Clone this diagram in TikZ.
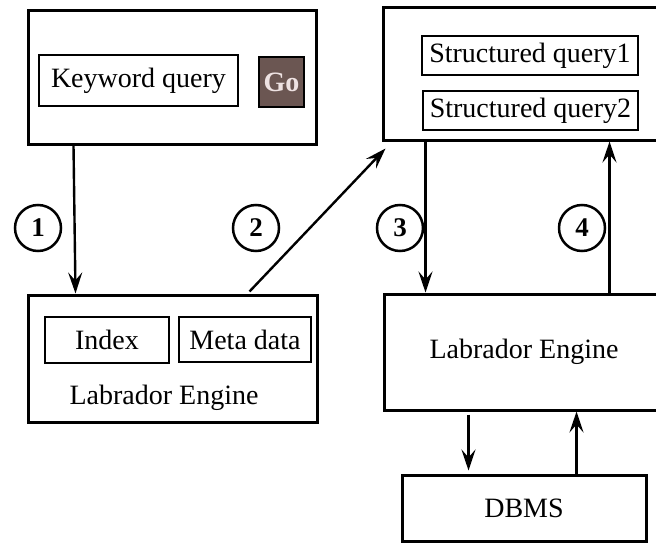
\documentclass[tikz,border=0pt]{standalone}
\usepackage{fontspec}
\setmainfont{Liberation Serif}
\usetikzlibrary{arrows.meta}
\definecolor{gobrown}{HTML}{6B5652}
\definecolor{gotext}{HTML}{EEE2E2}
\begin{document}
\begin{tikzpicture}
[x=1pt,y=-1pt,
box/.style={rectangle,draw=black,line width=3pt,inner sep=0pt,font=\fontsize{28}{32}\selectfont},
inbox/.style={box,line width=2.8pt},
stepmark/.style={circle,draw=black,line width=2.5pt,minimum size=46pt,inner sep=0pt,font=\fontsize{27}{28}\selectfont\bfseries},
arr/.style={line width=2.4pt,-{Stealth[length=21pt,width=14pt,inset=8pt]}}]
\useasboundingbox (0,0) rectangle (656,543);
\clip (0,0) rectangle (656,543);
%keyword page
	\node[box,minimum width=288pt,minimum height=133pt] (kwpage) at (172,77.5) {};
	\node[inbox,minimum width=199pt,minimum height=51pt] (kwq) at (138.5,80.5) {Keyword query};
	\node[inbox,fill=gobrown,text=gotext,minimum width=45pt,minimum height=50pt,font=\fontsize{28}{32}\selectfont\bfseries] (go) at (281.5,82) {Go};
%structured queries
	\node[box,minimum width=294pt,minimum height=132pt] (sqpage) at (530,74) {};
	\node[inbox,minimum width=216pt,minimum height=39pt] (sqa) at (530,55.5) {Structured query1};
	\node[inbox,minimum width=215pt,minimum height=39pt] (sqb) at (530.5,110.5) {Structured query2};
%left engine
	\node[box,minimum width=289pt,minimum height=127pt] (leng) at (172.5,358.5) {};
	\node[inbox,minimum width=124pt,minimum height=46pt] (idx) at (107,340) {Index};
	\node[inbox,minimum width=132pt,minimum height=45pt] (meta) at (245,339.5) {Meta data};
	\node[font=\fontsize{28}{32}\selectfont] (lenglabel) at (164,398) {Labrador Engine};
%right engine and database
	\node[box,minimum width=280pt,minimum height=116pt] (reng) at (524,352) {Labrador Engine};
	\node[box,minimum width=244pt,minimum height=66pt] (dbms) at (524,508) {DBMS};
%arrows
	\draw[arr] ([xshift=47pt]kwpage.south west) -- ([xshift=49pt]leng.north west);
	\draw[arr] ([xshift=223pt,yshift=2pt]leng.north west) -- ([xshift=4pt,yshift=-7pt]sqpage.south west);
	\draw[arr] ([xshift=44pt]sqpage.south west) -- ([xshift=43pt]reng.north west);
	\draw[arr] ([xshift=227pt]reng.north west) -- ([xshift=228pt]sqpage.south west);
	\draw[arr] ([xshift=86pt,yshift=-3pt]reng.south west) -- ([xshift=68pt,yshift=3pt]dbms.north west);
	\draw[arr] ([xshift=176pt]dbms.north west) -- ([xshift=194pt]reng.south west);
%steps
\foreach \n / \x in {1/38,2/256,3/400,4/582}
{
	\node[stepmark] (s\n) at (\x,228) {\n};
}
\end{tikzpicture}
\end{document}
